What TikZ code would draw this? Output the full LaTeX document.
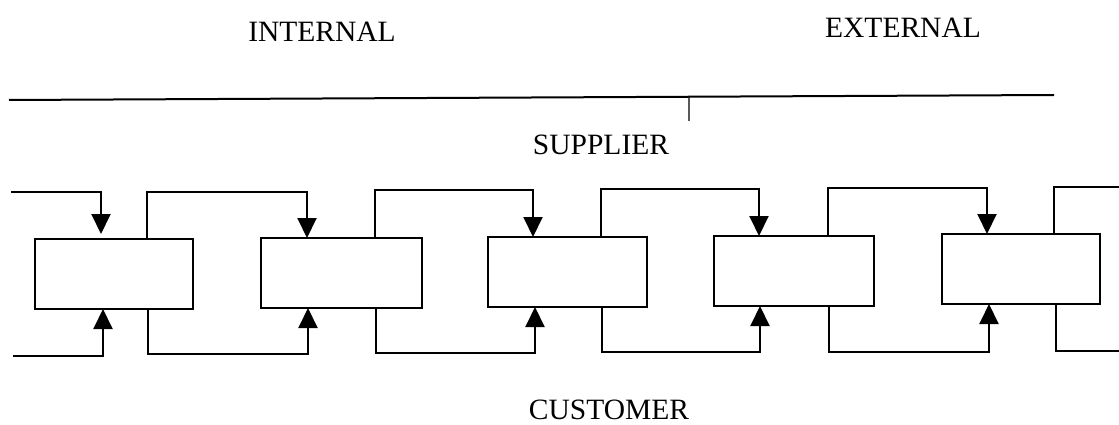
\documentclass[tikz,border=0pt]{standalone}
\usepackage{fontspec}
\setmainfont{Liberation Serif}
\usetikzlibrary{arrows.meta,calc}
\begin{document}
\begin{tikzpicture}[x=1pt,y=-1pt,
  line width=2pt, line join=miter,
  stagebox/.style={draw, rectangle, inner sep=0pt, outer sep=0pt, anchor=north west,
                   minimum height=70pt},
  flow/.style={-{Triangle[width=19pt,length=20pt]}},
  lbl/.style={font=\fontsize{29.5}{32}\selectfont, anchor=base, inner sep=0pt}]
\useasboundingbox (0,0) rectangle (1119,425);

% headings
\node[lbl] (int) at (322,42) {INTERNAL};
\node[lbl] (ext) at (903,38) {EXTERNAL};
\node[lbl] (sup) at (601,155) {SUPPLIER};
\node[lbl] (cus) at (609,419) {CUSTOMER};

% dividing rule with tick
\coordinate (ruleL) at (9,100);
\coordinate (ruleR) at (1054,95);
\coordinate (tickT) at ($(ruleL)!0.6507!(ruleR)$);
\coordinate (tickB) at (689,121);
\draw (ruleL) -- (ruleR);
\draw[line width=1.2pt] (tickT) -- (tickB);

% the chain of stages
\node[stagebox, minimum width=158pt] (b1) at (35,239) {};
\node[stagebox, minimum width=161pt] (b2) at (261,238) {};
\node[stagebox, minimum width=159pt] (b3) at (488,237) {};
\node[stagebox, minimum width=160pt] (b4) at (714,236) {};
\node[stagebox, minimum width=158pt] (b5) at (942,234) {};

% upper paths (supplier side)
\coordinate (ts0) at (11,192);   \coordinate (ti1) at (101,192);
\coordinate (to1) at (147,192);  \coordinate (ti2) at (307,192);
\coordinate (to2) at (375,190);  \coordinate (ti3) at (533,190);
\coordinate (to3) at (601,189);  \coordinate (ti4) at (759,189);
\coordinate (to4) at (828,188);  \coordinate (ti5) at (987,188);
\coordinate (to5) at (1054,187); \coordinate (te5) at (1119,187);

\draw[flow, shorten >=5pt] (ts0) -- (ti1) -- (b1.north -| ti1);
\draw[flow] (b1.north -| to1) -- (to1) -- (ti2) -- (b2.north -| ti2);
\draw[flow] (b2.north -| to2) -- (to2) -- (ti3) -- (b3.north -| ti3);
\draw[flow] (b3.north -| to3) -- (to3) -- (ti4) -- (b4.north -| ti4);
\draw[flow] (b4.north -| to4) -- (to4) -- (ti5) -- (b5.north -| ti5);
\draw (b5.north -| to5) -- (to5) -- (te5);

% lower paths (customer side)
\coordinate (bs0) at (13,356);   \coordinate (bi1) at (103,356);
\coordinate (bo1) at (148,354);  \coordinate (bi2) at (308,354);
\coordinate (bo2) at (376,353);  \coordinate (bi3) at (535,353);
\coordinate (bo3) at (602,352);  \coordinate (bi4) at (760,352);
\coordinate (bo4) at (829,352);  \coordinate (bi5) at (989,352);
\coordinate (bo5) at (1056,351); \coordinate (be5) at (1119,351);

\draw[flow] (bs0) -- (bi1) -- (b1.south -| bi1);
\draw[flow] (b1.south -| bo1) -- (bo1) -- (bi2) -- (b2.south -| bi2);
\draw[flow] (b2.south -| bo2) -- (bo2) -- (bi3) -- (b3.south -| bi3);
\draw[flow] (b3.south -| bo3) -- (bo3) -- (bi4) -- (b4.south -| bi4);
\draw[flow] (b4.south -| bo4) -- (bo4) -- (bi5) -- (b5.south -| bi5);
\draw (b5.south -| bo5) -- (bo5) -- (be5);
\end{tikzpicture}
\end{document}
